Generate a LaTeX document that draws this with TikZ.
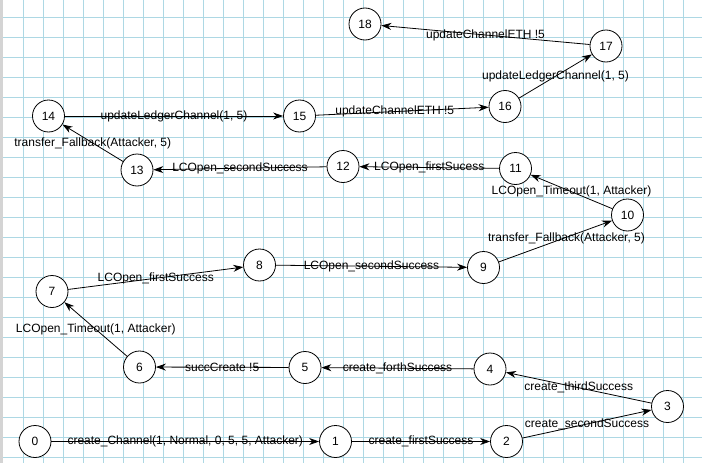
\documentclass[tikz,border=0pt]{standalone}
\usepackage{fontspec}
\setmainfont{Liberation Sans}
\usepackage{xcolor}
\usepackage{tikz}
\usetikzlibrary{arrows.meta,positioning,calc}

\definecolor{gridblue}{RGB}{173,216,228}
\definecolor{stripgray}{RGB}{212,212,212}

\tikzset{
  state/.style={draw, circle, line width=0.8pt, minimum size=32pt, inner sep=0pt, fill=white, font=\fontsize{12}{14}\selectfont},
  trans/.style={line width=0.8pt, -{Stealth[length=10pt,width=7pt]}},
  lbl/.style={inner sep=0pt, font=\fontsize{12}{14}\selectfont},
  gridline/.style={gridblue, line width=1pt}
}

\begin{document}
\begin{tikzpicture}[x=1pt,y=-1pt]
    % Canvas
    \useasboundingbox (0,0) rectangle (702,463);
    \fill[white] (0,0) rectangle (702,463);
    \foreach \x in {23,43,...,683} \draw[gridline] (\x,0) -- (\x,463);
    \foreach \y in {17.5,37.5,...,457.5} \draw[gridline] (3,\y) -- (702,\y);
    \fill[stripgray] (0,0) rectangle (3,463);

    % States
    \node[state] (s0) at (35,441.5) {0};
    \node[state] (s1) at (335.5,441.5) {1};
    \node[state] (s2) at (506.5,441.5) {2};
    \node[state] (s3) at (667.5,406.5) {3};
    \node[state] (s4) at (490,369) {4};
    \node[state] (s5) at (305,367.5) {5};
    \node[state] (s6) at (139.5,367) {6};
    \node[state] (s7) at (52,291.5) {7};
    \node[state] (s8) at (259.5,265) {8};
    \node[state] (s9) at (483.5,267.5) {9};
    \node[state] (s10) at (627.5,215) {10};
    \node[state] (s11) at (515.5,168.5) {11};
    \node[state] (s12) at (343,166.5) {12};
    \node[state] (s13) at (137,170) {13};
    \node[state] (s14) at (48.5,116) {14};
    \node[state] (s15) at (299.5,116) {15};
    \node[state] (s16) at (505,106.5) {16};
    \node[state] (s17) at (606,46) {17};
    \node[state] (s18) at (365,24) {18};

    % Transitions
    \draw[trans] (s0) -- node[lbl] {create\_Channel(1, Normal, 0, 5, 5, Attacker)} (s1);
    \draw[trans] (s1) -- node[lbl] {create\_firstSuccess} (s2);
    \draw[trans] (s2) -- node[lbl] {create\_secondSuccess} (s3);
    \draw[trans] (s3) -- node[lbl] {create\_thirdSuccess} (s4);
    \draw[trans] (s4) -- node[lbl] {create\_forthSuccess} (s5);
    \draw[trans] (s5) -- node[lbl] {succCreate !5} (s6);
    \draw[trans] (s6) -- node[lbl] {LCOpen\_Timeout(1, Attacker)} (s7);
    \draw[trans] (s7) -- node[lbl] {LCOpen\_firstSuccess} (s8);
    \draw[trans] (s8) -- node[lbl] {LCOpen\_secondSuccess} (s9);
    \draw[trans] (s9) -- node[lbl, xshift=11pt, yshift=3pt] {transfer\_Fallback(Attacker, 5)} (s10);
    \draw[trans] (s10) -- node[lbl] {LCOpen\_Timeout(1, Attacker)} (s11);
    \draw[trans] (s11) -- node[lbl] {LCOpen\_firstSucess} (s12);
    \draw[trans] (s12) -- node[lbl] {LCOpen\_secondSuccess} (s13);
    \draw[trans] (s13) -- node[lbl] {transfer\_Fallback(Attacker, 5)} (s14);
    \draw[trans] (s14) -- node[lbl] {updateLedgerChannel(1, 5)} (s15);
    \draw[trans] (s15) -- node[lbl, xshift=-7.5pt] {updateChannelETH !5} (s16);
    \draw[trans] (s16) -- node[lbl] {updateLedgerChannel(1, 5)} (s17);
    \draw[trans] (s17) -- node[lbl] {updateChannelETH !5} (s18);
\end{tikzpicture}
\end{document}
